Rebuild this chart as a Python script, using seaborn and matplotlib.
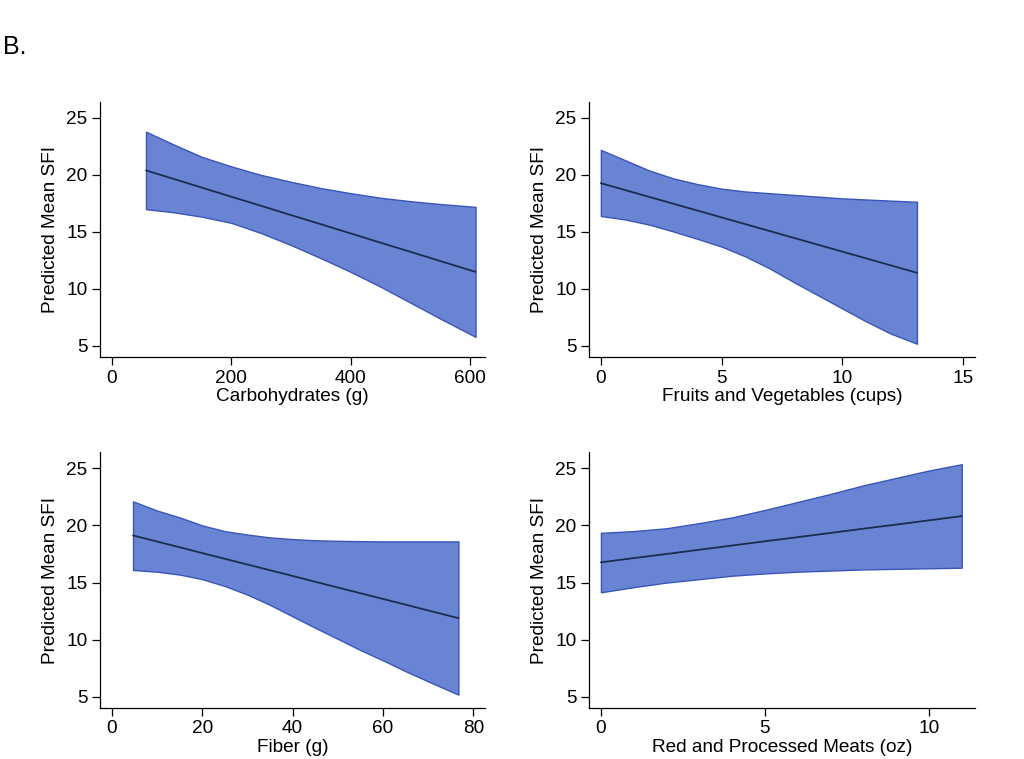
import numpy as np
import pandas as pd
import matplotlib
matplotlib.use("Agg")
import matplotlib.pyplot as plt
import seaborn as sns

# values
carb_x = [57, 100, 150, 200, 250, 300, 350, 400, 450, 500, 550, 609]
carb_mean = [20.40, 19.71, 18.90, 18.09, 17.29, 16.48, 15.68, 14.87, 14.06, 13.26, 12.45, 11.50]
carb_hi = [23.8, 22.75, 21.6, 20.75, 20.0, 19.4, 18.85, 18.4, 18.0, 17.7, 17.45, 17.2]
carb_lo = [17.0, 16.75, 16.35, 15.8, 14.9, 13.85, 12.7, 11.5, 10.2, 8.8, 7.4, 5.8]

fv_x = [0, 1, 2, 3, 4, 5, 6, 7, 8, 9, 10, 11, 12, 13.1]
fv_mean = [19.28, 18.68, 18.08, 17.48, 16.88, 16.28, 15.68, 15.08, 14.48, 13.88, 13.28, 12.68, 12.08, 11.42]
fv_hi = [22.2, 21.3, 20.4, 19.7, 19.2, 18.8, 18.55, 18.4, 18.25, 18.1, 17.95, 17.85, 17.75, 17.65]
fv_lo = [16.4, 16.1, 15.65, 15.05, 14.4, 13.72, 12.85, 11.8, 10.6, 9.45, 8.3, 7.15, 6.1, 5.2]

fib_x = [4.7, 10, 15, 20, 25, 30, 35, 40, 45, 50, 55, 60, 65, 70, 76.7]
fib_mean = [19.12, 18.59, 18.09, 17.58, 17.08, 16.58, 16.08, 15.58, 15.07, 14.57, 14.07, 13.57, 13.07, 12.56, 11.89]
fib_hi = [22.1, 21.3, 20.7, 20.0, 19.5, 19.2, 18.95, 18.8, 18.7, 18.65, 18.62, 18.6, 18.6, 18.6, 18.6]
fib_lo = [16.1, 15.95, 15.7, 15.3, 14.7, 13.95, 13.05, 12.05, 11.05, 10.08, 9.1, 8.2, 7.25, 6.36, 5.2]

meat_x = [0, 1, 2, 3, 4, 5, 6, 7, 8, 9, 10, 11]
meat_mean = [16.77, 17.14, 17.50, 17.87, 18.24, 18.61, 18.97, 19.34, 19.71, 20.07, 20.44, 20.81]
meat_hi = [19.35, 19.5, 19.75, 20.2, 20.7, 21.35, 22.05, 22.75, 23.5, 24.15, 24.8, 25.35]
meat_lo = [14.15, 14.6, 15.0, 15.3, 15.6, 15.8, 15.95, 16.05, 16.15, 16.2, 16.25, 16.3]

yticks = [5, 10, 15, 20, 25]

panels = [
    ("Carbohydrates (g)", carb_x, carb_mean, carb_hi, carb_lo, [0, 200, 400, 600], (-20, 625)),
    ("Fruits and Vegetables (cups)", fv_x, fv_mean, fv_hi, fv_lo, [0, 5, 10, 15], (-0.5, 15.5)),
    ("Fiber (g)", fib_x, fib_mean, fib_hi, fib_lo, [0, 20, 40, 60, 80], (-2.6, 82.6)),
    ("Red and Processed Meats (oz)", meat_x, meat_mean, meat_hi, meat_lo, [0, 5, 10], (-0.37, 11.4)),
]

sns.set_theme(style="ticks")
plt.rcParams['font.family'] = ['Liberation Sans', 'DejaVu Sans']
plt.rcParams['text.color'] = 'black'
plt.rcParams['axes.labelcolor'] = 'black'
plt.rcParams['xtick.color'] = 'black'
plt.rcParams['ytick.color'] = 'black'

fig = plt.figure(figsize=(10.24, 7.59), dpi=100)
positions = [
    [0.0977, 0.5296, 0.376, 0.336],
    [0.575, 0.5296, 0.377, 0.336],
    [0.0977, 0.0672, 0.376, 0.337],
    [0.575, 0.0672, 0.377, 0.337],
]

fs = 13.7
for pos, (label, x, mean, hi, lo, xticks, xlim) in zip(positions, panels):
    ax = fig.add_axes(pos)
    ax.fill_between(x, lo, hi, facecolor="#6a84d4", edgecolor="#3a55b8", linewidth=1.0)
    df = pd.DataFrame({"x": x, "y": mean})
    sns.lineplot(data=df, x="x", y="y", ax=ax, color="#1a2c50", linewidth=1.3)
    ax.set_xlim(*xlim)
    ax.set_ylim(4.03, 26.4)
    ax.set_xticks(xticks)
    ax.set_yticks(yticks)
    ax.set_xlabel(label, fontsize=fs, labelpad=1)
    ax.set_ylabel("Predicted Mean SFI", fontsize=fs, labelpad=5)
    ax.tick_params(axis="both", labelsize=fs, length=6, width=0.9,
                   direction="out", pad=3)
    sns.despine(ax=ax)
    for s in ["left", "bottom"]:
        ax.spines[s].set_linewidth(0.9)
        ax.spines[s].set_color("black")

fig.text(0.003, 0.938, "B.", fontsize=18, ha="left", va="center")

fig.savefig("out.png", dpi=100, facecolor="white")
